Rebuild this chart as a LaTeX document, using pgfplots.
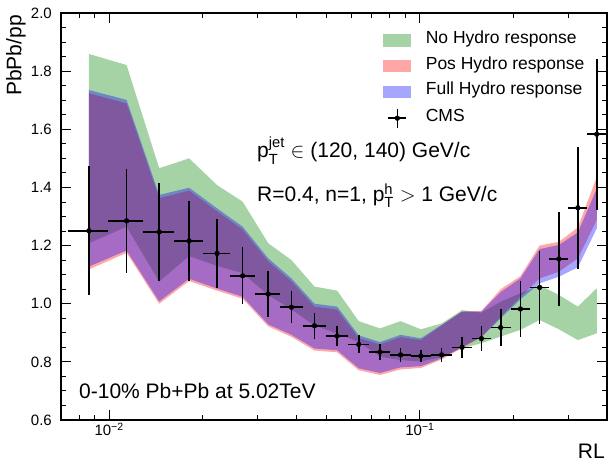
\documentclass[border=0pt]{standalone}
\usepackage{fontspec}
\setmainfont{Liberation Sans}
\usepackage{amsmath}
\usepackage{pgfplots}
\usepackage{pgfplotstable}
\pgfplotsset{compat=1.18}

\definecolor{nohydro}{RGB}{0,128,0}
\definecolor{poshydro}{RGB}{255,0,0}
\definecolor{fullhydro}{RGB}{0,0,255}

\newcommand\tickfont{\fontsize{15}{18}\selectfont}
\newcommand\labfont{\fontsize{21}{25}\selectfont}
\newcommand\legfont{\fontsize{17.5}{20}\selectfont}

% model bands as closed outlines: upper edge left to right, then lower edge right to left
\pgfplotstableread{
x       y
0.00861 1.859
0.01138 1.821
0.01449 1.466
0.01809 1.500
0.02225 1.408
0.02689 1.351
0.03251 1.208
0.03862 1.150
0.04578 1.059
0.05414 1.045
0.06356 0.940
0.07438 0.915
0.08670 0.940
0.1007  0.912
0.1174  0.932
0.1367  0.978
0.1578  0.969
0.1820  1.007
0.2106  1.036
0.2428  1.064
0.2801  1.030
0.3223  0.990
0.3708  1.053
0.3708  0.898
0.3223  0.875
0.2801  0.912
0.2428  0.944
0.2106  0.910
0.1820  0.887
0.1578  0.864
0.1367  0.847
0.1174  0.816
0.1007  0.801
0.08670 0.806
0.07438 0.818
0.06356 0.869
0.05414 0.897
0.04578 0.925
0.03862 0.980
0.03251 1.030
0.02689 1.105
0.02225 1.130
0.01809 1.164
0.01449 1.076
0.01138 1.265
0.00861 1.208
}\nohydroband

\pgfplotstableread{
x       y
0.00861 1.724
0.01138 1.689
0.01449 1.363
0.01809 1.389
0.02225 1.318
0.02689 1.255
0.03251 1.146
0.03862 1.077
0.04578 0.990
0.05414 0.980
0.06356 0.882
0.07438 0.860
0.08670 0.885
0.1007  0.875
0.1174  0.925
0.1367  0.973
0.1578  0.975
0.1820  1.050
0.2106  1.095
0.2428  1.200
0.2801  1.213
0.3223  1.262
0.3708  1.435
0.3708  1.288
0.3223  1.156
0.2801  1.110
0.2428  1.087
0.2106  1.024
0.1820  0.955
0.1578  0.885
0.1367  0.848
0.1174  0.808
0.1007  0.779
0.08670 0.774
0.07438 0.755
0.06356 0.771
0.05414 0.833
0.04578 0.839
0.03862 0.886
0.03251 0.922
0.02689 1.017
0.02225 1.045
0.01809 1.078
0.01449 1.000
0.01138 1.175
0.00861 1.118
}\poshydroband

\pgfplotstableread{
x       y
0.00861 1.735
0.01138 1.701
0.01449 1.374
0.01809 1.399
0.02225 1.328
0.02689 1.265
0.03251 1.156
0.03862 1.087
0.04578 1.000
0.05414 0.990
0.06356 0.891
0.07438 0.868
0.08670 0.893
0.1007  0.881
0.1174  0.927
0.1367  0.973
0.1578  0.973
0.1820  1.040
0.2106  1.087
0.2428  1.188
0.2801  1.202
0.3223  1.245
0.3708  1.395
0.3708  1.259
0.3223  1.125
0.2801  1.093
0.2428  1.070
0.2106  1.015
0.1820  0.950
0.1578  0.885
0.1367  0.852
0.1174  0.812
0.1007  0.785
0.08670 0.781
0.07438 0.762
0.06356 0.778
0.05414 0.840
0.04578 0.846
0.03862 0.893
0.03251 0.929
0.02689 1.024
0.02225 1.052
0.01809 1.086
0.01449 1.008
0.01138 1.183
0.00861 1.128
}\fullhydroband

% CMS points: x, y, bin half widths (left/right), y error
\pgfplotstableread{
x       y     exm     exp     ey
0.00861 1.251 0.00125 0.00129 0.222
0.01138 1.285 0.00148 0.00146 0.180
0.01449 1.247 0.00165 0.00170 0.169
0.01809 1.216 0.00190 0.00197 0.139
0.02225 1.173 0.00219 0.00220 0.120
0.02689 1.096 0.00244 0.00268 0.098
0.03251 1.033 0.00294 0.00294 0.078
0.03862 0.988 0.00317 0.00343 0.054
0.04578 0.924 0.00373 0.00404 0.044
0.05414 0.889 0.00432 0.00455 0.036
0.06356 0.860 0.00487 0.00524 0.031
0.07438 0.834 0.00558 0.00597 0.028
0.08670 0.824 0.00635 0.00680 0.023
0.1007  0.820 0.0072  0.0081  0.020
0.1174  0.824 0.0086  0.0092  0.024
0.1367  0.850 0.0101  0.0102  0.037
0.1578  0.880 0.0109  0.0117  0.044
0.1820  0.918 0.0125  0.0138  0.064
0.2106  0.982 0.0148  0.0156  0.096
0.2428  1.056 0.0166  0.0181  0.125
0.2801  1.154 0.0192  0.0203  0.163
0.3223  1.330 0.0219  0.0234  0.210
0.3708  1.583 0.0251  0.0278  0.260
}\cms

\begin{document}
\begin{tikzpicture}
\path[use as bounding box] (-61pt,-42pt) rectangle (547pt,420pt);
\begin{axis}[
    scale only axis,
    width=546pt, height=407pt,
    xmode=log,
    xmin=0.007, xmax=0.4,
    ymin=0.6, ymax=2.0,
    xtick={0.01,0.1},
    xticklabels={10\textsuperscript{−2},10\textsuperscript{−1}},
    minor xtick={0.008,0.009,0.02,0.03,0.04,0.05,0.06,0.07,0.08,0.09,0.2,0.3},
    ytick={0.6,0.8,...,2.0},
    minor y tick num=3,
    tick align=inside,
    major tick length=10pt,
    minor tick length=5pt,
    every tick/.style={black, line width=0.9pt},
    axis line style={line width=1.6pt},
    /pgf/number format/assume math mode=true,
    yticklabel={\pgfmathprintnumber[fixed,fixed zerofill,precision=1]{\tick}},
    ticklabel style={font=\tickfont},
    yticklabel style={inner sep=0pt, xshift=-9pt},
    xticklabel style={inner sep=0pt, yshift=-3pt},
    xlabel={RL},
    xlabel style={font=\labfont, inner sep=0pt, at={(axis description cs:1,0)}, anchor=north east, yshift=-24pt, xshift=-2pt},
    ylabel={PbPb/pp},
    ylabel style={font=\labfont, inner sep=0pt, at={(axis description cs:0,1)}, anchor=south east, yshift=35pt, xshift=-2pt},
    legend style={at={(axis description cs:0.59,0.956)}, anchor=north west, draw=none, fill=none,
        font=\legfont, inner sep=0pt, row sep=10pt, column sep=0pt,
        nodes={inner sep=0pt},
        /tikz/every odd column/.append style={column sep=14.5pt}},
    legend cell align=left,
]
\addplot[fill=nohydro, fill opacity=0.35, draw=none,
    legend image code/.code={\fill[nohydro, fill opacity=0.35] (0pt,-8.5pt) rectangle (28pt,3.8pt);}]
    table {\nohydroband} -- cycle;
\addlegendentry{No Hydro response}
\addplot[fill=poshydro, fill opacity=0.35, draw=none,
    legend image code/.code={\fill[poshydro, fill opacity=0.35] (0pt,-8.5pt) rectangle (28pt,3.8pt);}]
    table {\poshydroband} -- cycle;
\addlegendentry{Pos Hydro response}
\addplot[fill=fullhydro, fill opacity=0.35, draw=none,
    legend image code/.code={\fill[fullhydro, fill opacity=0.35] (0pt,-8.5pt) rectangle (28pt,3.8pt);}]
    table {\fullhydroband} -- cycle;
\addlegendentry{Full Hydro response}

\addplot[black, only marks, mark=*, mark size=2.4pt,
    legend image code/.code={
        \path[draw=none, fill=none] (0pt,-8.5pt) rectangle (28pt,3.8pt);
        \draw[black, line width=1.6pt] (5pt,-2.2pt) -- (23pt,-2.2pt) (14pt,-11.7pt) -- (14pt,7.3pt);
        \fill[black] (14pt,-2.2pt) circle (2.4pt);},
    error bars/.cd, x dir=both, x explicit, y dir=both, y explicit,
    error mark=none, error bar style={line width=1.6pt, black}]
    table[x=x, y=y, x error plus=exp, x error minus=exm, y error=ey] {\cms};
\addlegendentry{CMS}

\node[anchor=base west, font=\labfont, inner sep=0pt] at (rel axis cs:0.359,0.644)
    {p$^{\text{jet}}_{\text{T}}$ $\in$ (120, 140) GeV/c};
\node[anchor=base west, font=\labfont, inner sep=0pt] at (rel axis cs:0.359,0.536)
    {R=0.4, n=1, p$^{\text{h}}_{\text{T}}$ $>$ 1 GeV/c};
\node[anchor=base west, font=\labfont, inner sep=0pt] at (rel axis cs:0.033,0.054)
    {0-10\% Pb+Pb at 5.02TeV};
\end{axis}
\end{tikzpicture}
\end{document}
